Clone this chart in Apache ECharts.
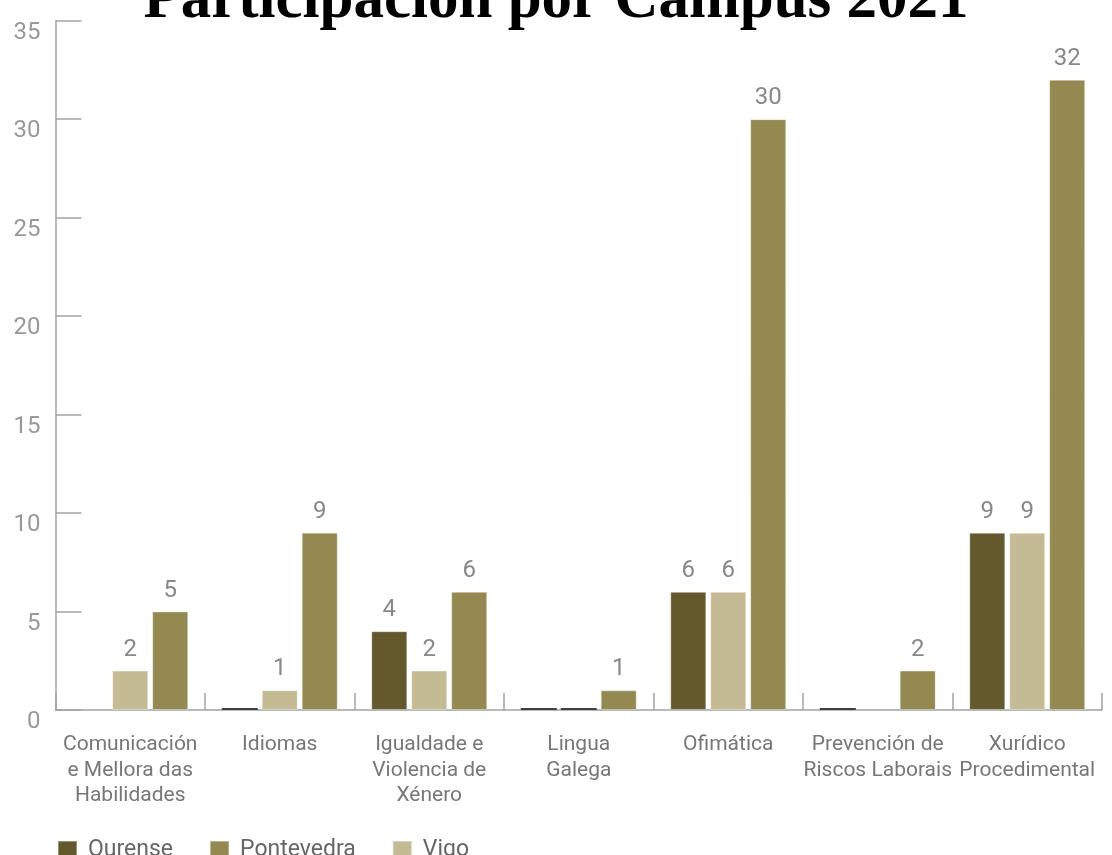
<!DOCTYPE html>
<html>
<head>
<meta charset="utf-8">
<script src="https://cdn.jsdelivr.net/npm/echarts@6/dist/echarts.min.js"></script>
<style>
html,body{margin:0;padding:0;background:#fff;}
#chart{width:1112px;height:855px;}
</style>
</head>
<body>
<div id="chart"></div>
<script>
const titleText = 'Participación por Campus 2021';
const categories = [
  'Comunicación\ne Mellora das\nHabilidades',
  'Idiomas',
  'Igualdade e\nViolencia de\nXénero',
  'Lingua\nGalega',
  'Ofimática',
  'Prevención de\nRiscos Laborais',
  'Xurídico\nProcedimental'
];
const seriesNames = ['Ourense', 'Vigo', 'Pontevedra'];
const legendOrder = ['Ourense', 'Pontevedra', 'Vigo'];
const ourense    = [null, 0, 4, 0, 6, 0, 9];
const vigo       = [2, 1, 2, 0, 6, null, 9];
const pontevedra = [5, 9, 6, 1, 30, 2, 32];
const yTicks = [0, 5, 10, 15, 20, 25, 30, 35];

const colors = { Ourense: '#64592d', Vigo: '#c4bb95', Pontevedra: '#938951' };
const valuesByName = { Ourense: ourense, Vigo: vigo, Pontevedra: pontevedra };

function toData(arr) {
  return arr.map(v => v === null ? '-' : (v === 0 ? { value: 0, itemStyle: { color: '#3f3f3f', borderWidth: 0 } } : v));
}

const chart = echarts.init(document.getElementById('chart'));
chart.setOption({
  backgroundColor: '#ffffff',
  animation: false,
  title: {
    text: titleText,
    left: 'center',
    top: -29,
    padding: 0,
    textStyle: { fontFamily: 'Liberation Serif', fontWeight: 'bold', fontSize: 61, color: '#000' }
  },
  legend: {
    data: legendOrder,
    left: 57,
    top: 839,
    itemWidth: 19,
    itemHeight: 19,
    itemGap: 36,
    icon: 'rect',
    padding: 0,
    textStyle: { fontFamily: 'Roboto', fontSize: 23, color: '#666', padding: [0, 0, 0, 6] }
  },
  grid: { left: 55.5, right: 10, top: 20.7, bottom: 145, containLabel: false, outerBoundsMode: 'none' },
  xAxis: {
    type: 'category',
    data: categories,
    axisLine: { lineStyle: { color: '#a3a3a3', width: 1.5 } },
    axisTick: { show: true, inside: true, length: 17, lineStyle: { color: '#a3a3a3', width: 1.5 } },
    axisLabel: { interval: 0, hideOverlap: false, margin: 22, fontFamily: 'Roboto', fontSize: 21, lineHeight: 25.5, color: '#777' }
  },
  yAxis: {
    type: 'value',
    min: yTicks[0],
    max: yTicks[yTicks.length - 1],
    interval: yTicks[1] - yTicks[0],
    splitLine: { show: false },
    axisLine: { show: true, lineStyle: { color: '#a3a3a3', width: 1.5 } },
    axisTick: { show: true, inside: true, length: 26, lineStyle: { color: '#a3a3a3', width: 1.5 } },
    axisLabel: { margin: 15, fontFamily: 'Roboto', fontSize: 24, color: '#999', verticalAlign: 'top' }
  },
  series: seriesNames.map(name => ({
    name: name,
    type: 'bar',
    data: toData(valuesByName[name]),
    barWidth: 36,
    barGap: '11%',
    barMinHeight: 2,
    itemStyle: { color: colors[name], borderColor: 'rgba(255,255,255,0.35)', borderWidth: 1 },
    label: {
      show: true,
      position: 'top',
      distance: 9,
      fontFamily: 'Roboto',
      fontSize: 24,
      color: '#888',
      formatter: p => (p.value ? String(p.value) : '')
    }
  }))
});
</script>
</body>
</html>
